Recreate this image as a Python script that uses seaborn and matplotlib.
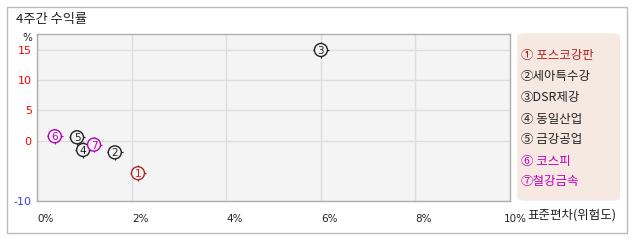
import matplotlib
matplotlib.use("Agg")
import matplotlib.pyplot as plt
import matplotlib.transforms as mtransforms
from matplotlib.patches import FancyBboxPatch, Rectangle
import seaborn as sns
import pandas as pd

# ---- data ----
names = ['포스코강판', '세아특수강', 'DSR제강', '동일산업', '금강공업', '코스피', '철강금속']
nums = ['1', '2', '3', '4', '5', '6', '7']
legend_labels = ['① 포스코강판', '②세아특수강', '③DSR제강', '④ 동일산업', '⑤ 금강공업', '⑥ 코스피', '⑦철강금속']
std_dev = [2.13, 1.64, 6.0, 0.97, 0.84, 0.37, 1.20]
returns = [-5.4, -1.95, 15.0, -1.55, 0.55, 0.72, -0.67]
colors = ['#B22222', '#222222', '#222222', '#222222', '#222222', '#BB00BB', '#BB00BB']
x_ticks = [0, 2, 4, 6, 8, 10]
x_tick_labels = ['0%', '2%', '4%', '6%', '8%', '10%']
y_ticks = [-10, 0, 5, 10, 15]
y_tick_labels = ['-10', '0', '5', '10', '15']
y_tick_colors = ['#3C3CFF', '#FF0000', '#FF0000', '#FF0000', '#FF0000']

sns.set_style("white")
plt.rcParams['font.family'] = ['Noto Sans CJK KR', 'DejaVu Sans']
plt.rcParams['axes.unicode_minus'] = False

df = pd.DataFrame({'name': names, 'x': std_dev, 'y': returns, 'num': nums})
palette = dict(zip(names, colors))

W, H = 638, 242
fig = plt.figure(figsize=(W / 100, H / 100), dpi=100)
fig.patch.set_facecolor('white')

# outer frame
fig.patches.append(Rectangle((6.7 / W, 1 - 233.3 / H), (626.7 - 6.7) / W, (233.3 - 7.3) / H,
                             transform=fig.transFigure, facecolor='none',
                             edgecolor='#BBBBBB', lw=1.0))

left, right, top, bottom = 37.3, 510, 34.3, 201
ax = fig.add_axes([left / W, 1 - bottom / H, (right - left) / W, (bottom - top) / H])
ax.set_facecolor('#F4F4F4')

# crosshair ticks
sns.scatterplot(data=df, x='x', y='y', hue='name', palette=palette, marker='+',
                s=(15.5 * 0.72) ** 2, linewidth=0.9, legend=False, ax=ax, zorder=3)
# circles
sns.scatterplot(data=df, x='x', y='y', hue='name', palette=palette, marker='o',
                s=(13 * 0.72) ** 2, legend=False, ax=ax, zorder=4)
for coll in ax.collections[1:]:
    coll.set_facecolor('#F4F4F4')
    coll.set_edgecolor([colors[i] for i in range(len(names))])
    coll.set_linewidth(1.0)
for xi, yi, n, c in zip(std_dev, returns, nums, colors):
    ax.text(xi, yi, n, color=c, fontsize=7.5, ha='center', va='center_baseline',
            family='DejaVu Sans', zorder=5)

ax.set_xlim(0, 10)
ax.set_ylim(-10, 17.6)
ax.set_xticks(x_ticks)
ax.set_xticklabels(x_tick_labels, ha='left', fontsize=7.5, color='#222222', family='DejaVu Sans')
ax.set_yticks(y_ticks)
ax.set_yticklabels(y_tick_labels, fontsize=8, family='DejaVu Sans')
for lab, c in zip(ax.get_yticklabels(), y_tick_colors):
    lab.set_color(c)
ax.tick_params(axis='both', length=0)
ax.tick_params(axis='x', pad=9)
ax.tick_params(axis='y', pad=4)
lbl = ax.get_xticklabels()[-1]
lbl.set_transform(lbl.get_transform() + mtransforms.ScaledTranslation(-6 / 100, 0, fig.dpi_scale_trans))
ax.grid(True, color='#DDDDDD', lw=1.0)
ax.set_axisbelow(True)
for sp in ax.spines.values():
    sp.set_color('#AEAEAE')
    sp.set_linewidth(1.0)
ax.set_xlabel('')
ax.set_ylabel('')

# title and unit
fig.text(16 / W, 1 - 19 / H, '4주간 수익률', fontsize=9.5, color='#222222', ha='left', va='center')
fig.text(27 / W, 1 - 38 / H, '%', fontsize=7.5, color='#222222', ha='center', va='center',
         family='DejaVu Sans')
fig.text(527 / W, 1 - 215 / H, '표준편차(위험도)', fontsize=9, color='#222222', ha='left', va='center')

# legend box
fig.patches.append(FancyBboxPatch((517.3 / W, 1 - 200.7 / H), (620 - 517.3) / W, (200.7 - 33.3) / H,
                                  boxstyle='round,pad=0,rounding_size=0.012',
                                  transform=fig.transFigure, facecolor='#F5E9E2',
                                  edgecolor='none'))
for i, (txt, c) in enumerate(zip(legend_labels, colors)):
    fig.text(521 / W, 1 - (56 + 21 * i) / H, txt, fontsize=9, color=c,
             ha='left', va='center')

fig.savefig('out.png', dpi=100)
